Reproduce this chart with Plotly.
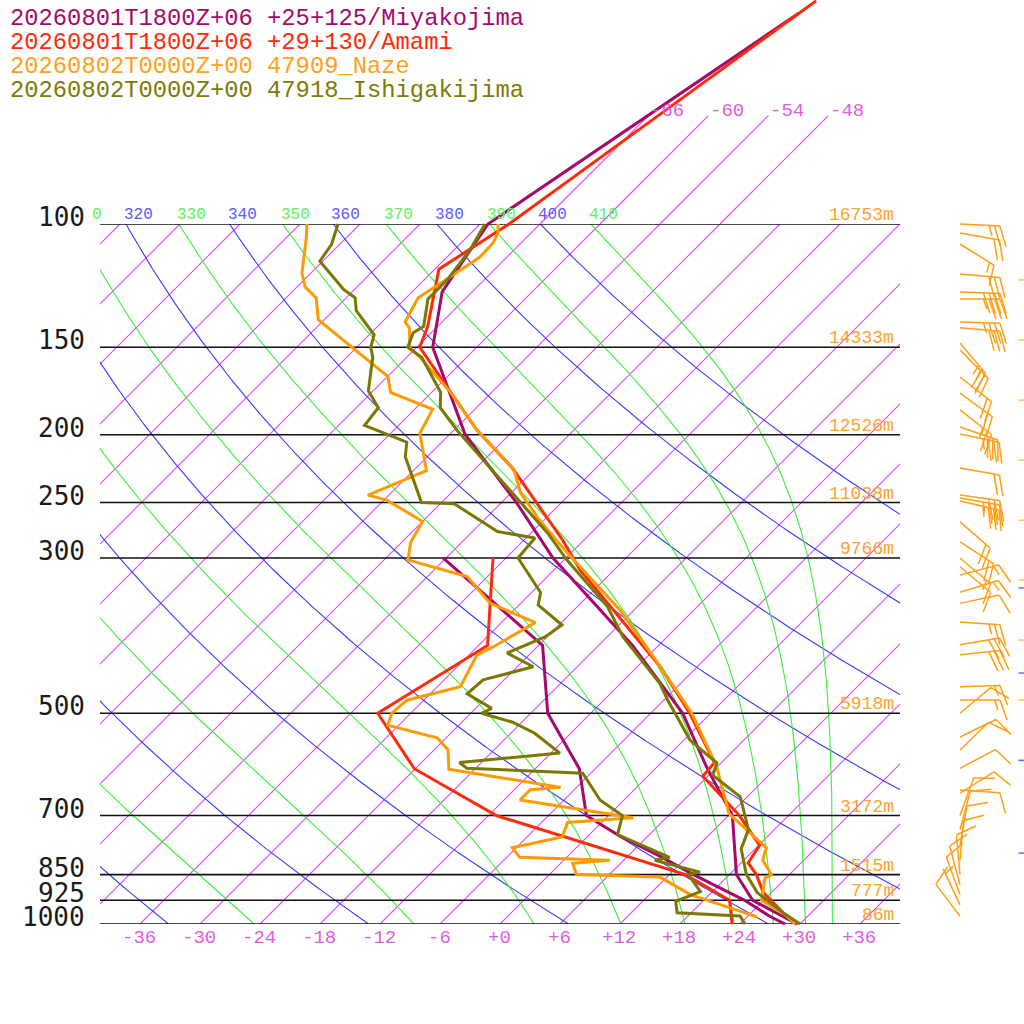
import numpy as np
import plotly.graph_objects as go

# ---- soundings: pressure (hPa), temperature / dew point (degC) ----
miya_p = [50, 100, 125, 150, 200, 250, 300, 400, 500, 600, 700, 850, 925, 975, 1000]
miya_t = [-61.2, -71.2, -69.0, -64.4, -52.4, -40.5, -31.3, -14.6, -2.8, 5.2, 12.4, 18.7, 22.9, 27.6, 29.7]
miya_td_p = [300, 400, 500, 600, 700, 750, 800, 850, 925, 975, 1000]
miya_td = [-42.3, -23.6, -16.3, -7.6, -2.2, 3.3, 9.2, 14.4, 22.1, 26.2, 28.5]

amami_p = [48, 100, 116, 140, 150, 174, 197, 223, 250, 283, 312, 429, 500, 588, 615, 700, 772, 818, 850, 902, 964, 1000]
amami_t = [-60.7, -69.1, -71.6, -67.0, -65.7, -58.1, -51.7, -44.4, -38.5, -32.1, -27.4, -9.7, -2.1, 5.3, 5.5,
           13.1, 18.1, 18.7, 20.7, 23.2, 27.2, 29.8]
amami_td_p = [300, 400, 500, 600, 700, 850, 925, 1000]
amami_td = [-37.3, -29.1, -33.3, -24.1, -11.2, 13.6, 20.6, 23.2]

naze_p = [100, 103, 106.5, 111.5, 119, 127.5, 138, 141, 150, 155, 174, 197, 224, 242, 265, 295, 356, 419,
          500, 594, 696, 778, 811, 850, 860, 925, 970, 1000]
naze_t = [-70.2, -69.3, -68.8, -68.7, -69.7, -70.8, -69.7, -68.6, -66.7, -64.7, -58.1, -51.7, -44.1, -41.1,
          -36.4, -30.4, -19.4, -10.9, -1.9, 5.8, 11.9, 19.0, 19.9, 22.2, 21.9, 23.8, 27.6, 29.5]
naze_td_p = [100, 105, 117.5, 123, 127.5, 137, 148, 165, 174, 184, 199, 225, 244, 248, 266, 285, 302, 319,
             348, 371, 402, 413, 458, 479, 500, 520, 542, 564, 601, 638, 643, 665, 705, 716, 751, 778, 803,
             811, 819, 850, 857, 908, 977]
naze_td = [-89.3, -87.9, -84.9, -83.2, -81.0, -78.6, -73.4, -66.0, -64.1, -58.2, -57.1, -52.7, -56.1, -53.7,
           -48.0, -47.1, -45.6, -38.0, -33.1, -26.6, -28.4, -29.2, -27.7, -31.7, -31.9, -31.1, -24.9, -22.6,
           -20.6, -7.6, -10.4, -10.4, 2.7, -3.4, -2.5, -6.4, -4.7, 4.6, 1.2, 2.7, 11.3, 16.1, 25.0]

ishi_p = [100, 109, 120, 128, 140, 143, 150, 155, 174, 183, 197, 276, 302, 352, 389, 453, 479, 546, 589, 613,
          658, 733, 781, 850, 902, 964, 1000]
ishi_t = [-71.5, -70.4, -69.7, -69.7, -67.4, -67.8, -66.9, -64.5, -59.1, -57.6, -53.7, -34.4, -29.7, -21.0,
          -16.4, -8.1, -5.6, 0.6, 5.6, 6.4, 11.3, 15.4, 16.6, 19.7, 22.6, 27.2, 30.0]
ishi_td_p = [100, 107, 113, 124, 127.5, 133, 144, 150, 155, 173, 183, 194, 205, 215, 250, 251, 275, 281, 300,
             336, 350, 374, 389, 410, 429, 448, 469, 492, 500, 515, 534, 570, 588, 599, 609, 665, 700, 745,
             803, 811, 843, 850, 899, 928, 964, 974, 1000]
ishi_td = [-86.2, -84.8, -84.3, -79.1, -77.1, -75.7, -71.5, -70.6, -69.4, -66.5, -63.8, -63.4, -57.5, -56.2,
           -50.0, -46.6, -39.5, -35.1, -34.8, -29.1, -28.1, -23.7, -24.2, -26.4, -22.4, -26.1, -26.3, -22.4,
           -22.9, -18.9, -15.6, -11.1, -20.2, -18.9, -6.8, -2.4, 1.4, 2.8, 10.3, 9.1, 14.8, 13.9, 16.8, 15.3,
           16.6, 23.2, 24.5]

# Naze winds (barbs): pressure, direction (deg), speed (kt)
wind_p = [100, 103, 106.8, 117.9, 125.1, 128, 138, 140.7, 147.9, 151.4, 165.4, 174.4, 184.3, 195, 199.5,
          223.1, 243.8, 246.3, 248.8, 266.4, 284.5, 300, 308.8, 317.4, 335.7, 348.3, 370.3, 399.2, 412.4,
          458.4, 478.6, 500, 540.6, 564.3, 599.3, 643.6, 650, 700, 733, 772, 811, 850, 879, 908, 939, 975]
wind_dir = [93, 100, 122, 95, 92, 90, 92, 95, 140, 135, 128, 126, 128, 109, 102, 100, 98, 100, 103, 131, 123,
            130, 130, 75, 73, 78, 94, 80, 84, 88, 90, 50, 64, 46, 62, 94, 58, 20, 15, 10, 5, 355, 345, 340,
            335, 323]
wind_kt = [25, 20, 15, 30, 40, 35, 35, 30, 25, 25, 20, 20, 25, 30, 35, 20, 30, 35, 35, 20, 20, 15, 10, 15,
           15, 10, 25, 30, 30, 15, 15, 10, 10, 10, 10, 10, 10, 10, 10, 10, 10, 10, 10, 10, 5, 10]

# small marks cut off at the right edge
edge_p_mag = [120.2, 146.5, 178.5, 217.5, 265, 322.6, 393, 478.6, 583.3]
edge_p_blue = [331, 438, 584, 792]

levels = [100, 150, 200, 250, 300, 500, 700, 850, 925, 1000]
heights = ["16753m", "14333m", "12526m", "11038m", "9766m", "5918m", "3172m", "1515m", "777m", "86m"]
isotherms = list(range(-108, 37, 6))
iso_top_labels = [-66, -60, -54, -48]
theta_dry = list(range(240, 401, 20))
theta_moist = list(range(250, 411, 20))

legend = [
    ("20260801T1800Z+06 +25+125/Miyakojima", "#a6086c"),
    ("20260801T1800Z+06 +29+130/Amami", "#ff2a0a"),
    ("20260802T0000Z+00 47909_Naze", "#ffa01a"),
    ("20260802T0000Z+00 47918_Ishigakijima", "#7d7a06"),
]

SKEW = 70.0  # degC of shift per decade of pressure
ISO_COL = "#d848f4"


def skew(t, p):
    return np.asarray(t, float) + SKEW * np.log10(1000.0 / np.asarray(p, float))


def theta_e_sat(tk, p):
    tc = tk - 273.15
    es = 6.112 * np.exp(17.67 * tc / (tc + 243.5))
    r = 622.0 * es / (p - es)
    return tk * (1000.0 / p) ** (0.2854 * (1 - 0.00028 * r)) * np.exp((3.376 / tk - 0.00254) * r * (1 + 0.00081 * r))


def moist_adiabat(the, p):
    lo = np.full_like(p, 150.0)
    hi = np.full_like(p, 318.0)
    for _ in range(60):
        mid = 0.5 * (lo + hi)
        big = theta_e_sat(mid, p) > the
        hi = np.where(big, mid, hi)
        lo = np.where(big, lo, mid)
    return 0.5 * (lo + hi) - 273.15


fig = go.Figure()
pp = np.logspace(3, 2, 300)

# isotherms
iso_x, iso_y = [], []
for t in isotherms:
    iso_x += list(skew([t, t], [1000, 100])) + [None]
    iso_y += [1000, 100, None]
fig.add_trace(go.Scatter(x=iso_x, y=iso_y, mode="lines", line=dict(color=ISO_COL, width=1.1),
                         xaxis="x", yaxis="y"))

# dry adiabats
dry_top = {}
for th in theta_dry:
    tt = th * (pp / 1000.0) ** 0.2857 - 273.15
    xs = skew(tt, pp)
    dry_top[th] = xs[-1]
    fig.add_trace(go.Scatter(x=xs, y=pp, mode="lines", line=dict(color="#3a3aff", width=1.1),
                             xaxis="x", yaxis="y"))

# moist adiabats
moist_top = {}
for th in theta_moist:
    xs = skew(moist_adiabat(th, pp), pp)
    moist_top[th] = xs[-1]
    fig.add_trace(go.Scatter(x=xs, y=pp, mode="lines", line=dict(color="#36f036", width=1.1),
                             xaxis="x", yaxis="y"))

# pressure lines
for p in levels:
    fig.add_trace(go.Scatter(x=[-40, 40], y=[p, p], mode="lines", line=dict(color="#111111", width=1.6),
                             xaxis="x", yaxis="y"))

# labelled isotherms continue above 100 hPa
top_x, top_y = [], []
for t in iso_top_labels:
    top_x += list(skew([t, t], [100, 70])) + [None]
    top_y += [100, 70, None]
fig.add_trace(go.Scatter(x=top_x, y=top_y, mode="lines", line=dict(color=ISO_COL, width=1.1),
                         xaxis="x2", yaxis="y2"))

# soundings
series = [
    (miya_p, miya_t, miya_td_p, miya_td, legend[0][1]),
    (amami_p, amami_t, amami_td_p, amami_td, legend[1][1]),
    (naze_p, naze_t, naze_td_p, naze_td, "#ff9a00"),
    (ishi_p, ishi_t, ishi_td_p, ishi_td, "#7a7800"),
]
for tp, tv, dp, dv, col in series:
    fig.add_trace(go.Scatter(x=skew(dv, dp), y=dp, mode="lines", line=dict(color=col, width=3),
                             xaxis="x2", yaxis="y2"))
    fig.add_trace(go.Scatter(x=skew(tv, tp), y=tp, mode="lines", line=dict(color=col, width=3),
                             xaxis="x2", yaxis="y2"))

# wind barbs (built in pixel offsets, converted to chart units)
BARB_X = 46.0
bx, by = [], []
for p0, d, s in zip(wind_p, wind_dir, wind_kt):
    a = np.radians(d)
    ux, uy = np.sin(a), -np.cos(a)
    fx, fy = np.cos(a), np.sin(a)
    segs = [[(0, 0), (40 * ux, 40 * uy)]]
    n10, rest = divmod(int(s), 10)
    pos = 40.0
    for _ in range(n10):
        segs.append([(pos * ux, pos * uy), (pos * ux + 20 * fx + 7 * ux, pos * uy + 20 * fy + 7 * uy)])
        pos -= 5.5
    if rest >= 5:
        if n10 == 0:
            pos -= 5.5
        segs.append([(pos * ux, pos * uy), (pos * ux + 10 * fx + 3.5 * ux, pos * uy + 10 * fy + 3.5 * uy)])
    for seg in segs:
        for dx, dy in seg:
            bx.append(BARB_X + dx / 10.0)
            by.append(p0 * 10 ** (dy / 700.0))
        bx.append(None)
        by.append(None)
fig.add_trace(go.Scatter(x=bx, y=by, mode="lines", line=dict(color="#ff9f14", width=1.5),
                         xaxis="x2", yaxis="y2"))

fig.add_trace(go.Scatter(x=[52.2] * len(edge_p_mag), y=edge_p_mag, mode="markers",
                         marker=dict(symbol="line-ew-open", size=5, line=dict(color="#d040e0", width=1.5)),
                         xaxis="x2", yaxis="y2"))
fig.add_trace(go.Scatter(x=[52.2] * len(edge_p_blue), y=edge_p_blue, mode="markers",
                         marker=dict(symbol="line-ew-open", size=5, line=dict(color="#5050ff", width=1.5)),
                         xaxis="x2", yaxis="y2"))

ann = []
mono = "Liberation Mono"
# legend text
for i, (txt, col) in enumerate(legend):
    ann.append(dict(text=txt, x=8 / 1024, y=1 - (18 + 24 * i) / 1024, xref="paper", yref="paper",
                    xanchor="left", yanchor="middle", showarrow=False,
                    font=dict(family=mono, size=23.8, color=col)))
# pressure labels and heights
for p, h in zip(levels, heights):
    ann.append(dict(text=str(p), x=87 / 1024, y=np.log10(p), xref="paper", yref="y2", xanchor="right",
                    yanchor="middle", yshift=7, showarrow=False,
                    font=dict(family="DejaVu Sans Mono", size=26, color="#1a1a1a")))
    ann.append(dict(text=h, x=39.6, y=np.log10(p), xref="x2", yref="y2", xanchor="right",
                    yanchor="bottom", yshift=-3, showarrow=False,
                    font=dict(family=mono, size=18, color="#ffa030")))
# temperature labels at 1000 hPa
for t in range(-36, 37, 6):
    lab = ("+" if t >= 0 else "-") + str(abs(t))
    ann.append(dict(text=lab, x=t - 0.1, y=3, xref="x2", yref="y2", xanchor="center", yanchor="top",
                    yshift=-1, showarrow=False, font=dict(family=mono, size=19, color="#e05ce0")))
# isotherm labels above 100 hPa
for t in iso_top_labels:
    ann.append(dict(text=str(t), x=float(skew(t, 70)), y=np.log10(70), xref="x2", yref="y2",
                    xanchor="left", yanchor="middle", yshift=5, showarrow=False,
                    font=dict(family=mono, size=19, color="#e05ce0")))
# theta labels along 100 hPa
cw = 0.95
for tops, col in ((dry_top, "#5a5aff"), (moist_top, "#5cf05c")):
    for th, x0 in tops.items():
        txt = str(th)
        k = 0
        while k < len(txt) and x0 + (k + 1) * cw < -40:
            k += 1
        if k >= len(txt):
            continue
        ann.append(dict(text=txt[k:], x=float(x0 + k * cw) - 0.4, y=2, xref="x2", yref="y2", xanchor="left",
                        yanchor="bottom", yshift=-2, showarrow=False,
                        font=dict(family=mono, size=16, color=col)))

fig.update_layout(
    width=1024, height=1024, margin=dict(l=0, r=0, t=0, b=0),
    paper_bgcolor="white", plot_bgcolor="rgba(0,0,0,0)", showlegend=False,
    xaxis=dict(domain=[100 / 1024, 900 / 1024], range=[-40, 40], visible=False),
    yaxis=dict(domain=[100 / 1024, 800 / 1024], type="log", range=[3, 2], visible=False),
    xaxis2=dict(domain=[0, 1], range=[-50, 52.4], visible=False, anchor="y2"),
    yaxis2=dict(domain=[0, 1], type="log", range=[3 + 100 / 700, 2 - 224 / 700], visible=False, anchor="x2"),
    annotations=ann,
)

fig.write_html("out.html", config={"displayModeBar": False},
               post_script="document.body.style.margin='0px';")
